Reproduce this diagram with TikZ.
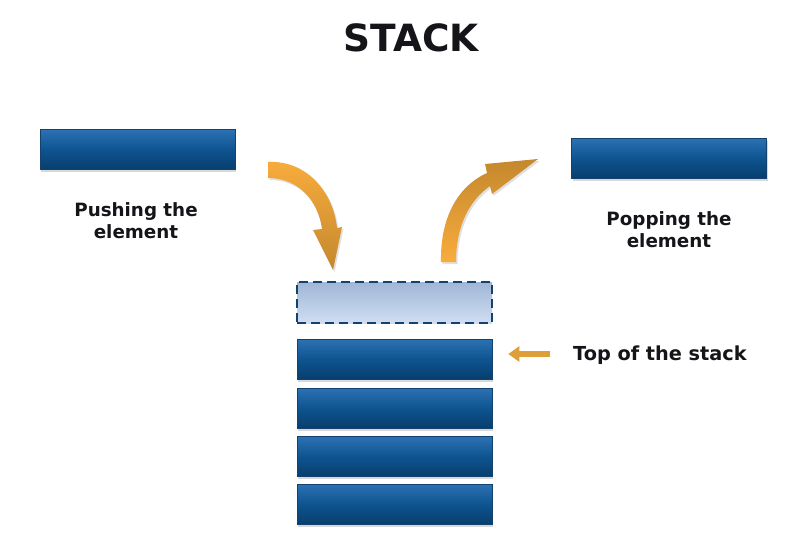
\documentclass[tikz,border=0pt]{standalone}
\usepackage{fontspec}
\setmainfont{DejaVu Sans}
\usetikzlibrary{shadows,arrows.meta,calc}
\definecolor{bluetop}{RGB}{44,114,180}
\definecolor{bluemid}{RGB}{14,84,144}
\definecolor{bluebot}{RGB}{8,62,110}
\definecolor{blueedge}{RGB}{20,66,110}
\definecolor{dashtop}{RGB}{160,182,214}
\definecolor{dashbot}{RGB}{208,222,242}
\definecolor{orlight}{RGB}{248,172,60}
\definecolor{ordark}{RGB}{196,136,46}
\definecolor{orsmall}{RGB}{222,158,58}
\definecolor{txt}{RGB}{20,20,25}
\tikzset{
  bar/.style={draw=blueedge, line width=0.6pt, top color=bluetop, bottom color=bluebot, middle color=bluemid,
    minimum width=195pt, minimum height=40pt, inner sep=0pt,
    drop shadow={opacity=0.3, shadow xshift=1pt, shadow yshift=-2.5pt}},
  ghost/.style={draw=blueedge, line width=1.6pt, dash pattern=on 9pt off 5pt,
    top color=dashtop, bottom color=dashbot,
    minimum width=195pt, minimum height=41pt, inner sep=0pt},
  lbl/.style={text=txt, font=\bfseries\fontsize{18.3}{22}\selectfont, align=center, inner sep=0pt},
  curv/.style={drop shadow={opacity=0.25, shadow xshift=1.5pt, shadow yshift=-2pt}},
}
\begin{document}
\begin{tikzpicture}[x=1pt,y=-1pt]
\useasboundingbox[fill=white] (0,0) rectangle (804,555);
% title
\node[text=txt, font=\bfseries\fontsize{37.5}{40}\selectfont, inner sep=0pt] (title) at (411,38) {STACK};
% elements
\node[bar] (pushbox) at (137.5,149.5) {};
\node[bar] (popbox) at (669,158) {};
\node[lbl] (pushlbl) at (136,221) {Pushing the\\element};
\node[lbl] (poplbl) at (669,230) {Popping the\\element};
% stack
\node[ghost] (ghost) at (394.5,302.5) {};
\node[bar] (b1) at (394.5,359) {};
\node[bar] (b2) at (394.5,408) {};
\node[bar] (b3) at (394.5,456.5) {};
\node[bar] (b4) at (394.5,504) {};
% top label and arrow
\node[lbl, anchor=west, font=\bfseries\fontsize{19.3}{22}\selectfont] (toplbl) at (573,355) {Top of the stack};
\draw[line width=6pt, draw=orsmall, -{Triangle[length=11pt,width=15pt]},
  drop shadow={opacity=0.25, shadow xshift=1pt, shadow yshift=-2pt}]
  ($(toplbl.west)+(-23,-1)$) -- ($(b1.east)+(16,-5)$);
% push arrow
\path[curv, top color=orlight, bottom color=ordark]
  (268,162) .. controls (305,160) and (333,190) .. (337,228)
  -- (342,227) -- (333,270) -- (313,230) -- (322,229)
  .. controls (318,200) and (298,178) .. (268,178) -- cycle;
% pop arrow
\path[curv, top color=ordark, bottom color=orlight]
  (441,262) .. controls (440,215) and (460,185) .. (487,173)
  -- (485,164) -- (538,159) -- (492,194) -- (490,186)
  .. controls (470,200) and (456,225) .. (456,262) -- cycle;
\end{tikzpicture}
\end{document}
